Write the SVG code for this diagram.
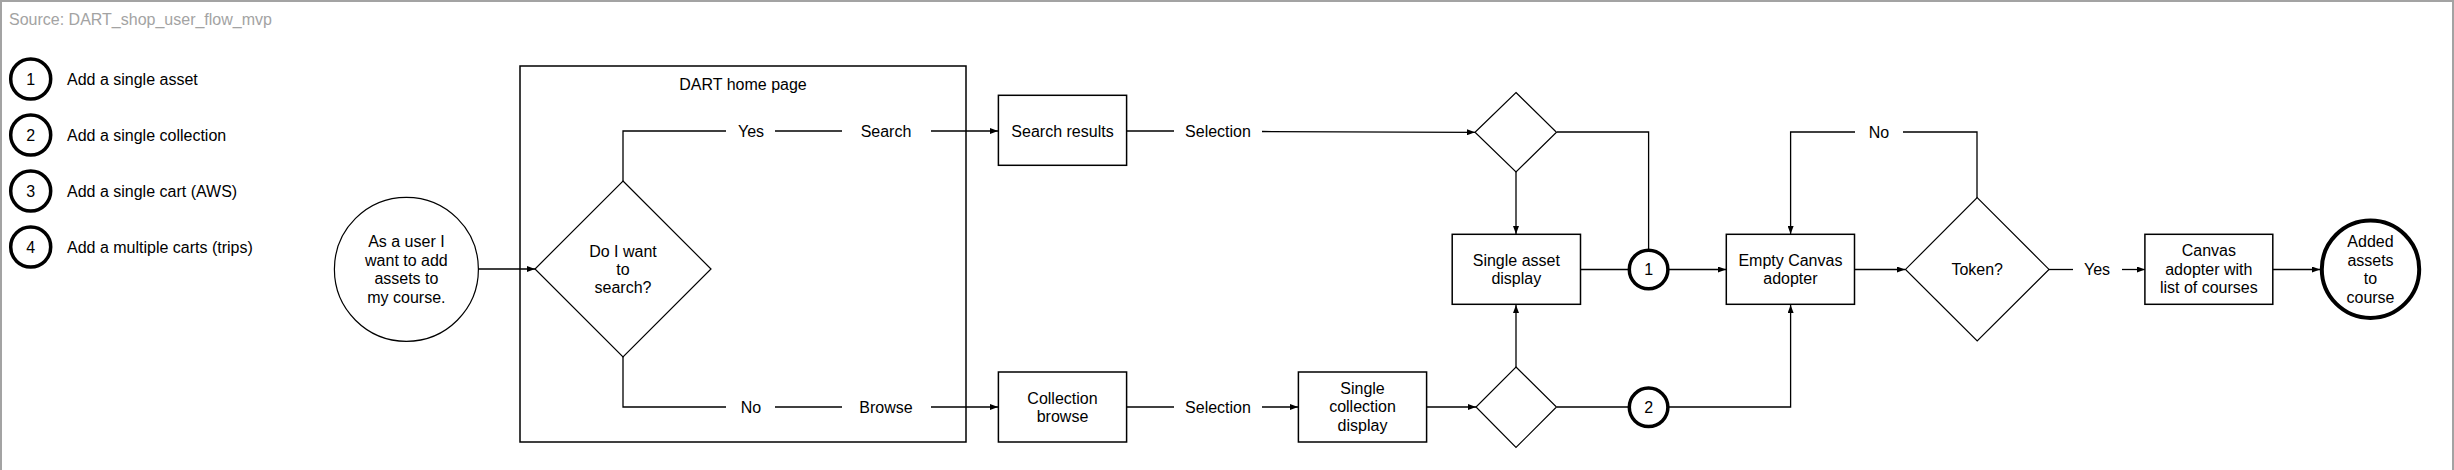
<svg xmlns="http://www.w3.org/2000/svg" width="2454" height="470" viewBox="0 0 2454 470">
<style>
text{font-family:"Liberation Sans",Arial,sans-serif;font-size:16px;fill:#000}
.c{text-anchor:middle}
.src{fill:#a3a3a3}
.box{fill:#fff;stroke:#000;stroke-width:1.5}
.thin{fill:#fff;stroke:#000;stroke-width:1.2}
.ref{fill:#fff;stroke:#000;stroke-width:3.5}
.ln{fill:none;stroke:#000;stroke-width:1.3}
.ar{marker-end:url(#ah)}
</style>
<defs>
<marker id="ah" markerUnits="userSpaceOnUse" markerWidth="8" markerHeight="6" refX="8" refY="3" orient="auto">
<path d="M0,0 L8,3 L0,6 z" fill="#000"/>
</marker>
</defs>
<rect x="1" y="1" width="2452" height="520" fill="#fff" stroke="#a3a3a3" stroke-width="2"/>
<text id="source" class="src" x="9" y="25">Source: DART_shop_user_flow_mvp</text>

<g id="legend">
<g id="legend-1"><circle class="ref" cx="30.7" cy="79" r="20"/><text class="c" x="30.7" y="84.5">1</text><text x="67" y="84.5">Add a single asset</text></g>
<g id="legend-2"><circle class="ref" cx="30.7" cy="135" r="20"/><text class="c" x="30.7" y="140.5">2</text><text x="67" y="140.5">Add a single collection</text></g>
<g id="legend-3"><circle class="ref" cx="30.7" cy="191" r="20"/><text class="c" x="30.7" y="196.5">3</text><text x="67" y="196.5">Add a single cart (AWS)</text></g>
<g id="legend-4"><circle class="ref" cx="30.7" cy="247" r="20"/><text class="c" x="30.7" y="252.5">4</text><text x="67" y="252.5">Add a multiple carts (trips)</text></g>
</g>

<g id="home-page"><rect class="box" x="520" y="66" width="446" height="376"/><text class="c" x="743" y="90">DART home page</text></g>

<g id="connectors">
<path class="ln ar" d="M478,269 H535"/>
<path class="ln" d="M623,181 V131 H726"/>
<path class="ln" d="M775,131 H842"/>
<path class="ln ar" d="M931,131 H998"/>
<path class="ln" d="M623,357 V407 H726"/>
<path class="ln" d="M775,407 H842"/>
<path class="ln ar" d="M931,407 H998"/>
<path class="ln" d="M1127,131 H1174"/>
<path class="ln ar" d="M1262,131.5 L1475,132.3"/>
<path class="ln" d="M1127,407 H1174"/>
<path class="ln ar" d="M1262,407 H1298"/>
<path class="ln ar" d="M1427,407 H1476"/>
<path class="ln ar" d="M1516,172 V234"/>
<path class="ln ar" d="M1516,367 V305"/>
<path class="ln" d="M1557,132 H1648.6 V249"/>
<path class="ln" d="M1580,269.5 H1629"/>
<path class="ln ar" d="M1668,269.5 H1726"/>
<path class="ln" d="M1557,407 H1629"/>
<path class="ln ar" d="M1668,407 H1790.6 V305"/>
<path class="ln ar" d="M1855,269.5 H1905"/>
<path class="ln" d="M1977,198 V132 H1903"/>
<path class="ln ar" d="M1855,132 H1790.6 V234"/>
<path class="ln" d="M2049,269.5 H2073"/>
<path class="ln ar" d="M2122,269.5 H2145"/>
<path class="ln ar" d="M2273,269.5 H2320"/>
<text class="c" x="751" y="137">Yes</text>
<text class="c" x="886" y="137">Search</text>
<text class="c" x="751" y="413">No</text>
<text class="c" x="886" y="413">Browse</text>
<text class="c" x="1218" y="137">Selection</text>
<text class="c" x="1218" y="413">Selection</text>
<text class="c" x="1879" y="138">No</text>
<text class="c" x="2097" y="275">Yes</text>
</g>

<g id="start"><circle class="thin" cx="406.4" cy="269.3" r="72"/>
<text class="c" x="406.4" y="247">As a user I</text><text class="c" x="406.4" y="265.5">want to add</text><text class="c" x="406.4" y="284">assets to</text><text class="c" x="406.4" y="302.5">my course.</text></g>

<g id="search-decision"><path class="thin" d="M623,181 L711,269 L623,357 L535,269 Z"/>
<text class="c" x="623" y="256.7">Do I want</text><text class="c" x="623" y="275">to</text><text class="c" x="623" y="293.3">search?</text></g>

<g id="search-results"><rect class="box" x="998.4" y="95.3" width="128.2" height="70"/><text class="c" x="1062.5" y="136.7">Search results</text></g>

<g id="collection-browse"><rect class="box" x="998.4" y="372" width="128.2" height="70"/><text class="c" x="1062.5" y="403.5">Collection</text><text class="c" x="1062.5" y="422">browse</text></g>

<g id="single-collection"><rect class="box" x="1298.4" y="372" width="128.2" height="70"/><text class="c" x="1362.5" y="393.5">Single</text><text class="c" x="1362.5" y="412">collection</text><text class="c" x="1362.5" y="430.5">display</text></g>

<g id="decision-top"><path class="thin" d="M1516,92.5 L1556.5,132.3 L1516,172 L1475,132.3 Z"/></g>
<g id="decision-bottom"><path class="thin" d="M1516,367 L1556.5,407 L1516,447.5 L1476,407 Z"/></g>

<g id="single-asset"><rect class="box" x="1452.2" y="234.3" width="128.3" height="70"/><text class="c" x="1516.3" y="265.5">Single asset</text><text class="c" x="1516.3" y="284">display</text></g>

<g id="ref-1"><circle class="ref" cx="1648.6" cy="269.5" r="19.3"/><text class="c" x="1648.6" y="275">1</text></g>
<g id="ref-2"><circle class="ref" cx="1648.6" cy="407.3" r="19.3"/><text class="c" x="1648.6" y="413">2</text></g>

<g id="empty-canvas"><rect class="box" x="1726.3" y="234.3" width="128.2" height="70"/><text class="c" x="1790.4" y="265.5">Empty Canvas</text><text class="c" x="1790.4" y="284">adopter</text></g>

<g id="token"><path class="thin" d="M1977.2,197.7 L2049,269.4 L1977.2,341 L1905.5,269.4 Z"/><text class="c" x="1977.2" y="275">Token?</text></g>

<g id="canvas-adopter"><rect class="box" x="2144.9" y="234.3" width="127.9" height="70"/><text class="c" x="2208.8" y="256">Canvas</text><text class="c" x="2208.8" y="275">adopter with</text><text class="c" x="2208.8" y="293.3">list of courses</text></g>

<g id="end"><circle class="thin" cx="2370.5" cy="269.2" r="48.7" style="stroke-width:4"/>
<text class="c" x="2370.5" y="247">Added</text><text class="c" x="2370.5" y="265.5">assets</text><text class="c" x="2370.5" y="284">to</text><text class="c" x="2370.5" y="302.5">course</text></g>
</svg>
